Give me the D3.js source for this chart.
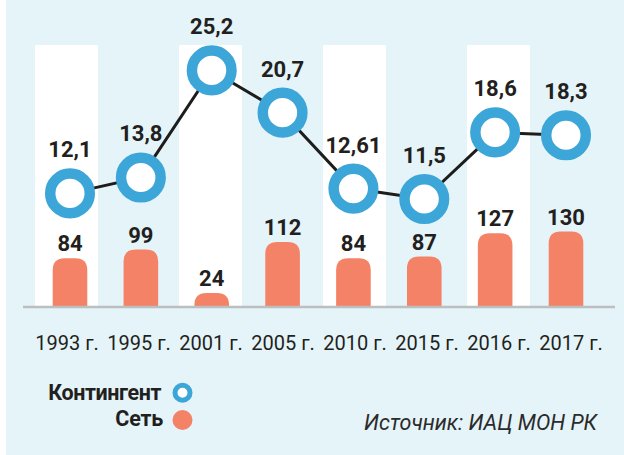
<!DOCTYPE html>
<html><head><meta charset="utf-8">
<script src="https://cdn.jsdelivr.net/npm/d3@7/dist/d3.min.js"></script>
<style>html,body{margin:0;padding:0;background:#fff;}svg{display:block;}text{font-family:Roboto,"Noto Sans",sans-serif;}</style>
</head><body>
<svg id="c" width="624" height="455"></svg>
<script>
const categories = ["1993 г.","1995 г.","2001 г.","2005 г.","2010 г.","2015 г.","2016 г.","2017 г."];
const contingent = [12.1, 13.8, 25.2, 20.7, 12.61, 11.5, 18.6, 18.3];
const network = [84, 99, 24, 112, 84, 87, 127, 130];
const contingentLabels = ["12,1","13,8","25,2","20,7","12,61","11,5","18,6","18,3"];
const legendLabels = ["Контингент","Сеть"];
const sourceText = "Источник: ИАЦ МОН РК";

const svg = d3.select("#c");
const W = 624, H = 455, baseY = 307;
const blue = "#3ca6d8", salmon = "#f48267", dark = "#231f20";

svg.append("rect").attr("x",6).attr("y",0).attr("width",W-6).attr("height",H).attr("fill","#e5f4f9");

// scales
const xBand = d3.scalePoint().domain(categories).range([66.5, 570.5]);
const xMark = d3.scalePoint().domain(categories).range([70, 566]);
const yBar = d3.scaleLinear().domain([0, 130]).range([baseY, baseY - 75.4]);
const yLine = d3.scaleLinear().domain([0, 25.2]).range([baseY, baseY - 236.6]);

// white bands
svg.append("g").selectAll("rect").data(categories.filter((d,i)=>i%2===0)).join("rect")
  .attr("x", d => xBand(d) - 31.5).attr("y", 45).attr("width", 63).attr("height", baseY - 45)
  .attr("fill", "#fff");

// bars with rounded tops
const bw = 34.6, r = 12;
svg.append("g").selectAll("path").data(network).join("path")
  .attr("fill", salmon)
  .attr("d", (v,i) => {
    const x0 = xMark(categories[i]) - bw/2, x1 = x0 + bw, yt = yBar(v);
    const rr = Math.min(r, (baseY - yt));
    return `M${x0},${baseY}V${yt+rr}Q${x0},${yt} ${x0+rr},${yt}H${x1-rr}Q${x1},${yt} ${x1},${yt+rr}V${baseY}Z`;
  });

// bar labels
svg.append("g").selectAll("text").data(network).join("text")
  .attr("x", (v,i) => xMark(categories[i])).attr("y", v => yBar(v) - 7)
  .attr("text-anchor","middle").attr("font-size",22).attr("font-weight",700).attr("fill",dark)
  .text(v => v);

// baseline
svg.append("line").attr("x1",23).attr("x2",615).attr("y1",baseY).attr("y2",baseY)
  .attr("stroke","#bcbec0").attr("stroke-width",2.5);

// line
const line = d3.line().x((v,i)=>xMark(categories[i])).y(v=>yLine(v));
svg.append("path").datum(contingent).attr("d", line).attr("fill","none")
  .attr("stroke","#1d1d1b").attr("stroke-width",3);

// circles
svg.append("g").selectAll("circle").data(contingent).join("circle")
  .attr("cx",(v,i)=>xMark(categories[i])).attr("cy",v=>yLine(v)).attr("r",19.8)
  .attr("fill","#fff").attr("stroke",blue).attr("stroke-width",10.5);

// circle labels
svg.append("g").selectAll("text").data(contingent).join("text")
  .attr("x",(v,i)=>xMark(categories[i])).attr("y",v=>yLine(v)-36)
  .attr("text-anchor","middle").attr("font-size",22).attr("font-weight",700).attr("fill",dark)
  .text((v,i)=>contingentLabels[i]);

// x axis labels
const xAxis = d3.axisBottom(xBand).tickSize(0).tickPadding(0);
const ax = svg.append("g").attr("transform",`translate(0,${baseY})`).call(xAxis);
ax.select(".domain").remove();
ax.selectAll("text").attr("y", 43).attr("dy", 0).attr("font-size",20).attr("fill",dark)
  .attr("font-family","Roboto");

// legend
svg.append("text").attr("x",161).attr("y",400).attr("text-anchor","end").attr("font-size",21.5)
  .attr("font-weight",700).attr("fill",dark).attr("letter-spacing",-0.4).text(legendLabels[0]);
svg.append("text").attr("x",163).attr("y",426).attr("text-anchor","end").attr("font-size",21.5)
  .attr("font-weight",700).attr("fill",dark).attr("letter-spacing",-0.2).text(legendLabels[1]);
svg.append("circle").attr("cx",182.5).attr("cy",392.7).attr("r",7.5).attr("fill","#fff")
  .attr("stroke",blue).attr("stroke-width",5);
svg.append("circle").attr("cx",182.5).attr("cy",420).attr("r",10).attr("fill",salmon);

// source
svg.append("text").attr("x",597).attr("y",430).attr("text-anchor","end").attr("font-size",21.5)
  .attr("font-style","italic").attr("fill","#2b2b2b").text(sourceText);
</script>
</body></html>
